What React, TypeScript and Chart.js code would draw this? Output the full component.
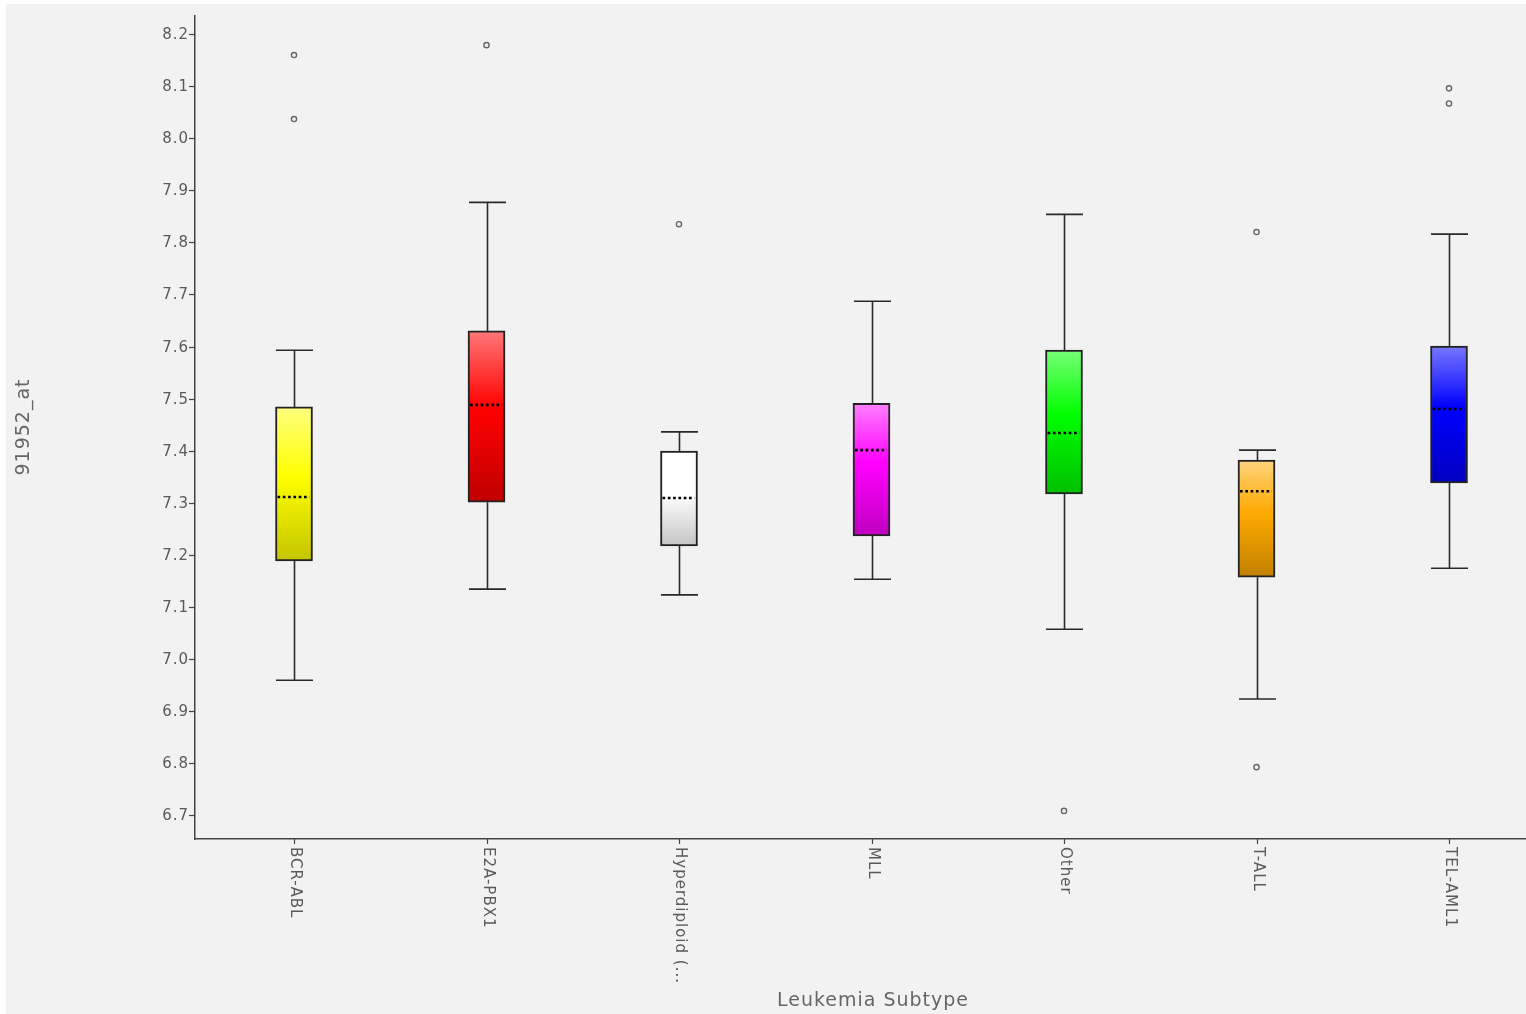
import React, { useEffect, useRef } from "react";
import { Chart, registerables } from "chart.js";

Chart.register(...registerables);

const categories = ["BCR-ABL", "E2A-PBX1", "Hyperdiploid (...", "MLL", "Other", "T-ALL", "TEL-AML1"];
const whiskerLow = [6.959, 7.134, 7.123, 7.153, 7.057, 6.923, 7.174];
const q1 = [7.188, 7.301, 7.217, 7.236, 7.317, 7.157, 7.338];
const median = [7.311, 7.488, 7.309, 7.401, 7.434, 7.322, 7.48];
const q3 = [7.484, 7.63, 7.399, 7.491, 7.593, 7.382, 7.601];
const whiskerHigh = [7.593, 7.877, 7.436, 7.687, 7.854, 7.401, 7.816];
const outliers: number[][] = [[8.16, 8.037], [8.179], [7.835], [], [6.708], [7.82, 6.792], [8.096, 8.067]];
const yTicks = [6.7, 6.8, 6.9, 7.0, 7.1, 7.2, 7.3, 7.4, 7.5, 7.6, 7.7, 7.8, 7.9, 8.0, 8.1, 8.2];
const xTitle = "Leukemia Subtype";
const yTitle = "91952_at";

// [light top, pure, dark bottom]
const boxColors = [
  ["#ffff80", "#ffff00", "#c4c400"],
  ["#ff7878", "#ff0000", "#c00000"],
  ["#ffffff", "#ffffff", "#c4c4c4"],
  ["#ff80ff", "#ff00ff", "#c000c0"],
  ["#78ff78", "#00ff00", "#00c000"],
  ["#ffd480", "#ffaa00", "#c08000"],
  ["#7878ff", "#0000ff", "#0000c0"],
];

const BOX_W = 37;
const FONT = '"DejaVu Sans", Verdana, sans-serif';

const boxPlugin = {
  id: "boxExtras",
  beforeDatasetsDraw(chart: any) {
    const { ctx, scales } = chart;
    const xs = scales.x;
    const ys = scales.y;
    ctx.save();
    ctx.strokeStyle = "#2a2a2a";
    ctx.lineWidth = 1.6;
    categories.forEach((_, i) => {
      const cx = Math.round(xs.getPixelForValue(i)) + 0.5;
      const yHi = ys.getPixelForValue(whiskerHigh[i]);
      const yLo = ys.getPixelForValue(whiskerLow[i]);
      const yQ3 = ys.getPixelForValue(q3[i]);
      const yQ1 = ys.getPixelForValue(q1[i]);
      ctx.beginPath();
      ctx.moveTo(cx, yHi);
      ctx.lineTo(cx, yQ3);
      ctx.moveTo(cx, yQ1);
      ctx.lineTo(cx, yLo);
      ctx.moveTo(cx - BOX_W / 2, yHi);
      ctx.lineTo(cx + BOX_W / 2, yHi);
      ctx.moveTo(cx - BOX_W / 2, yLo);
      ctx.lineTo(cx + BOX_W / 2, yLo);
      ctx.stroke();
    });
    ctx.restore();
  },
  afterDatasetsDraw(chart: any) {
    const { ctx, scales } = chart;
    const xs = scales.x;
    const ys = scales.y;
    ctx.save();
    ctx.strokeStyle = "#000";
    ctx.lineWidth = 2.6;
    ctx.setLineDash([2.7, 2.6]);
    categories.forEach((_, i) => {
      const cx = xs.getPixelForValue(i);
      const ym = ys.getPixelForValue(median[i]);
      ctx.beginPath();
      ctx.moveTo(cx - BOX_W / 2 + 2, ym);
      ctx.lineTo(cx + BOX_W / 2 - 3, ym);
      ctx.stroke();
    });
    ctx.restore();
  },
  afterDraw(chart: any) {
    const { ctx, scales, chartArea } = chart;
    const xs = scales.x;
    const ys = scales.y;
    ctx.save();
    ctx.strokeStyle = "#444";
    ctx.lineWidth = 1.2;
    // y ticks
    ctx.fillStyle = "#5a5a5a";
    ctx.font = `15px ${FONT}`;
    (ctx as any).letterSpacing = "1px";
    ctx.textAlign = "right";
    ctx.textBaseline = "middle";
    yTicks.forEach((v) => {
      const y = Math.round(ys.getPixelForValue(v)) + 0.5;
      ctx.beginPath();
      ctx.moveTo(chartArea.left - 6, y);
      ctx.lineTo(chartArea.left, y);
      ctx.stroke();
      ctx.fillText(v.toFixed(1), chartArea.left - 6, y + 1);
    });
    // x ticks
    categories.forEach((label, i) => {
      const x = Math.round(xs.getPixelForValue(i)) + 0.5;
      ctx.beginPath();
      ctx.moveTo(x, chartArea.bottom);
      ctx.lineTo(x, chartArea.bottom + 5);
      ctx.stroke();
      ctx.save();
      ctx.translate(x, chartArea.bottom + 8);
      ctx.rotate(Math.PI / 2);
      ctx.textAlign = "left";
      ctx.textBaseline = "middle";
      ctx.fillText(label, 0, 0);
      ctx.restore();
    });
    // titles
    ctx.fillStyle = "#666";
    ctx.font = `19px ${FONT}`;
    ctx.textAlign = "center";
    ctx.textBaseline = "middle";
    ctx.fillText(xTitle, 867, 997);
    ctx.save();
    ctx.translate(18, 423);
    ctx.rotate(-Math.PI / 2);
    ctx.fillText(yTitle, 0, 0);
    ctx.restore();
    ctx.restore();
  },
};

export default function App() {
  const ref = useRef<HTMLCanvasElement>(null);
  useEffect(() => {
    document.body.style.margin = "0";
    const canvas = ref.current!;
    const boxData = categories.map((_, i) => ({ x: i, y: [q1[i], q3[i]] }));
    const outlierData: { x: number; y: number }[] = [];
    outliers.forEach((arr, i) => arr.forEach((v) => outlierData.push({ x: i, y: v })));

    const chart = new Chart(canvas, {
      type: "bar",
      data: {
        datasets: [
          {
            type: "bar",
            data: boxData as any,
            barThickness: BOX_W,
            borderSkipped: false,
            borderColor: "#222",
            borderWidth: 2,
            backgroundColor: (c: any) => {
              const i = c.dataIndex ?? 0;
              const cols = boxColors[i % boxColors.length];
              const chartObj = c.chart;
              const ys = chartObj.scales?.y;
              if (!chartObj.chartArea || !ys) return cols[1];
              const top = ys.getPixelForValue(q3[i]);
              const bot = ys.getPixelForValue(q1[i]);
              const g = chartObj.ctx.createLinearGradient(0, top, 0, bot);
              g.addColorStop(0, cols[0]);
              g.addColorStop(0.45, cols[1]);
              g.addColorStop(1, cols[2]);
              return g;
            },
          } as any,
          {
            type: "scatter",
            data: outlierData,
            pointStyle: "circle",
            pointRadius: 2.6,
            pointBorderWidth: 1.4,
            pointBorderColor: "#666",
            pointBackgroundColor: "#f2f2f2",
          } as any,
        ],
      },
      options: {
        animation: false,
        responsive: false,
        layout: { autoPadding: false, padding: { top: 12, right: 0, left: 0, bottom: 0 } },
        plugins: { legend: { display: false }, tooltip: { enabled: false } },
        scales: {
          x: {
            type: "linear",
            offset: false,
            min: -0.5143,
            max: 6.4,
            grid: { display: false, offset: false },
            border: { display: true, color: "#444", width: 1.5 },
            ticks: { display: false },
            afterFit: (s: any) => {
              s.height = 175;
            },
          },
          y: {
            type: "linear",
            min: 6.654,
            max: 8.235,
            grid: { display: false },
            border: { display: true, color: "#444", width: 1.5 },
            ticks: { display: false },
            afterFit: (s: any) => {
              s.width = 189;
            },
          },
        },
      },
      plugins: [boxPlugin],
    } as any);
    return () => chart.destroy();
  }, []);

  return (
    <div style={{ position: "absolute", left: 6, top: 4, width: 1520, height: 1010, background: "#f2f2f2" }}>
      <canvas ref={ref} width={1520} height={1010} style={{ display: "block" }} />
    </div>
  );
}
